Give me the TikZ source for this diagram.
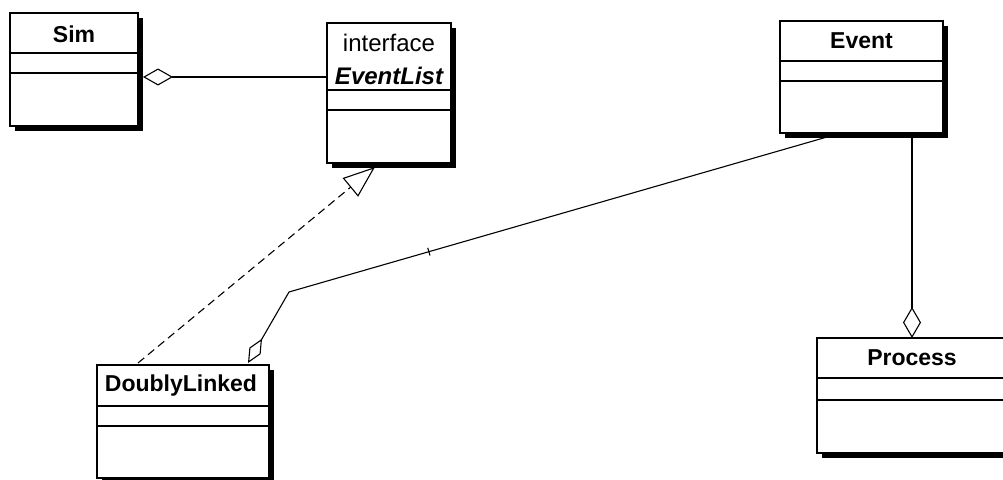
\documentclass[tikz,border=0pt]{standalone}
\usepackage{fontspec}
\setmainfont{Liberation Sans}
\usetikzlibrary{arrows.meta,calc,shadows}
\tikzset{
  cls/.style={draw, fill=white, line width=1.4pt, anchor=north west, inner sep=0pt, outer sep=0pt,
    drop shadow={shadow xshift=4.5pt, shadow yshift=-4.5pt, opacity=1, fill=black, draw=none}},
  sep/.style={line width=1.2pt},
  title/.style={font=\fontsize{23}{25}\selectfont\bfseries, inner sep=0pt},
  conn/.style={line width=1.1pt},
  aggr/.style={conn, {Diamond[open, length=30pt, width=17pt, line width=1.1pt]}-},
  real/.style={conn, dash pattern=on 8pt off 5pt, -{Triangle[open, length=32pt, width=24pt, line width=1.1pt]}},
}
\newcommand\classbox[7]{%
  \node[cls, minimum width=#4pt, minimum height=#5pt] (#1) at (#2,#3) {};
  \draw[sep] ($(#1.north west)+(0,#6)$) -- ($(#1.north east)+(0,#6)$);
  \draw[sep] ($(#1.north west)+(0,#7)$) -- ($(#1.north east)+(0,#7)$);
}
\begin{document}
\begin{tikzpicture}[x=1pt,y=-1pt]
\useasboundingbox (0,0) rectangle (1003,479);
\clip (0,0) rectangle (1003,479);
\fill[white] (0,0) rectangle (1003,479);

% classes
\classbox{sim}{10}{13}{128}{113}{40}{60}
\classbox{el}{327}{23}{124}{140}{67}{87}
\classbox{event}{780}{21}{163}{112}{40}{60}
\classbox{dl}{97}{365}{172}{113}{41}{61}
\classbox{process}{817}{338}{190}{115}{40}{62}

% titles
\node[title] (simt) at ($(sim.north)+(0,21)$) {Sim};
\node[font=\fontsize{24}{26}\selectfont, inner sep=0pt] (elst) at ($(el.north)+(0,20)$) {interface};
\node[font=\fontsize{24}{26}\selectfont\bfseries\itshape, inner sep=0pt] (elt) at ($(el.north)+(0,53)$) {EventList};
\node[title] (eventt) at ($(event.north)+(0,20)$) {Event};
\node[title] (dlt) at ($(dl.north)+(-2,21)$) {DoublyLinked};
\node[title] (processt) at ($(process.north)+(0,20)$) {Process};

% Sim <>--- EventList
\draw[aggr] ($(sim.north east)+(5,64)$) -- ($(el.north west)+(0,54)$);

% DoublyLinked ..|> EventList
\draw[real] ($(dl.north west)+(41,-2)$) -- ($(el.south west)+(48,4)$);

% DoublyLinked <>--- Event
\coordinate (bend) at (289,292);
\coordinate (evb) at ($(event.south west)+(47,4)$);
\draw[conn, {Diamond[open, length=28pt, width=13pt, line width=1.1pt]}-]
  ($(dl.north west)+(151,-2)$) -- (bend) -- (evb);
\coordinate (tk) at ($(bend)!0.26!(evb)$);
\draw[conn] ($(tk)!4pt!90:(evb)$) -- ($(tk)!4pt!-90:(evb)$);

% Process <>--- Event
\draw[conn, {Diamond[open, length=31pt, width=18pt, line width=1.1pt]}-]
  ($(process.north west)+(95,0)$) -- ($(event.south west)+(132,4)$);
\end{tikzpicture}
\end{document}
